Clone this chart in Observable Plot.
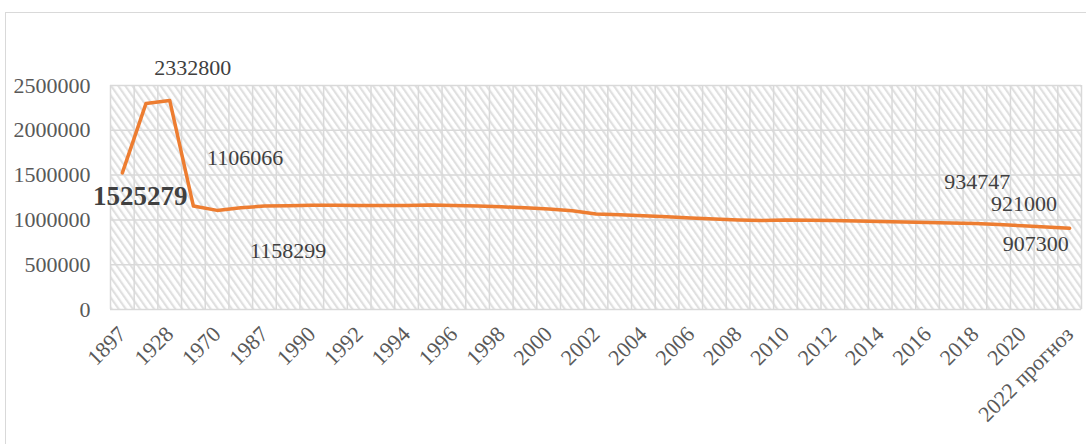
<!DOCTYPE html>
<html><head><meta charset="utf-8">
<script src="https://cdn.jsdelivr.net/npm/d3@7"></script>
<script src="https://cdn.jsdelivr.net/npm/@observablehq/plot@0.6"></script>
<style>
body{margin:0;background:#fff;}
#wrap{position:relative;width:1086px;height:444px;overflow:hidden;background:#fff;}
#border{position:absolute;left:5px;top:12px;width:1300px;height:700px;border:1.5px solid #d9d9d9;box-sizing:border-box;}
#chart{position:absolute;left:0;top:0;}
</style></head><body>
<div id="wrap"><div id="border"></div><div id="chart"></div></div>
<script>
const years = ["1897","1917","1928","1959","1970","1979","1987","1989",
  "1990","1991","1992","1993","1994","1995","1996","1997","1998","1999",
  "2000","2001","2002","2003","2004","2005","2006","2007","2008","2009",
  "2010","2011","2012","2013","2014","2015","2016","2017","2018","2019",
  "2020","2021","2022 прогноз"];
const population = [1525279,2300000,2332800,1155000,1106066,1135000,1155000,1158299,
  1163000,1164000,1162000,1160000,1160000,1165000,1162000,1155000,1146000,1135000,
  1121000,1102000,1066000,1058000,1047000,1035000,1022000,1010000,1000000,993000,
  1000000,997000,993000,988000,983000,977000,972000,966000,959000,949000,
  934747,921000,907300];
const tickLabels = ["1897","1928","1970","1987","1990","1992","1994","1996","1998",
  "2000","2002","2004","2006","2008","2010","2012","2014","2016","2018","2020","2022 прогноз"];
const yTicks = [0,500000,1000000,1500000,2000000,2500000];
const labelYears = ["1897","1928","1970","1989","2020","2021","2022 прогноз"];
const labelValues = [1525279,2332800,1106066,1158299,934747,921000,907300];

const W = 1086, H = 444, ML = 110, MR = 5, MT = 85, MB = 135;
const step = (W - ML - MR) / years.length;
const data = years.map((y, i) => ({year: y, value: population[i]}));
const labels = labelYears.map((y, i) => ({year: y, value: labelValues[i]}));
// label offsets (style)
const off = {
  "1897": [18, 24], "1928": [23, -33], "1970": [28, -52], "1989": [0, 45],
  "2020": [-45, -44], "2021": [-22, -23], "2022 прогноз": [-34, 16]
};
const font = "'Liberation Serif','Times New Roman',serif";

const plot = Plot.plot({
  width: W, height: H,
  marginLeft: ML, marginRight: MR, marginTop: MT, marginBottom: MB,
  style: {fontFamily: font, background: "transparent"},
  x: {type: "point", domain: years, axis: null, round: false, padding: 0.5},
  y: {domain: [0, 2500000], axis: null},
  marks: [
    Plot.frame({fill: "url(#hatch)", stroke: null}),
    Plot.ruleY(yTicks, {stroke: "#d9d9d9", strokeWidth: 1.5}),
    Plot.ruleX(years, {x: d => d, dx: -step / 2, stroke: "#d9d9d9", strokeWidth: 1.5}),
    Plot.ruleX([years[years.length - 1]], {x: d => d, dx: step / 2, stroke: "#d9d9d9", strokeWidth: 1.5}),
    Plot.text(yTicks, {y: d => d, text: d => String(d), frameAnchor: "left", textAnchor: "end",
      lineAnchor: "middle", dx: -20, fontSize: 22, fill: "#595959"}),
    Plot.text(tickLabels, {x: d => d, frameAnchor: "bottom", rotate: -45, textAnchor: "end",
      lineAnchor: "middle", dx: 0, dy: 21, fontSize: 22, fill: "#595959"}),
    Plot.line(data, {x: "year", y: "value", stroke: "#ED7D31", strokeWidth: 3.5,
      strokeLinejoin: "round", strokeLinecap: "round"}),
    ...labels.map(d => Plot.text([d], {x: "year", y: "value", text: v => String(v.value),
      dx: off[d.year][0], dy: off[d.year][1], fontSize: d.year === "1897" ? 27 : 22,
      fontWeight: d.year === "1897" ? "bold" : "normal", fill: "#404040", textAnchor: "middle",
      lineAnchor: "middle"}))
  ]
});
const ns = "http://www.w3.org/2000/svg";
const defs = document.createElementNS(ns, "defs");
defs.innerHTML = `<pattern id="hatch" patternUnits="userSpaceOnUse" width="5.8" height="5.8" patternTransform="rotate(-35)">
  <rect width="5.8" height="5.8" fill="#ffffff"/>
  <rect x="0" y="0" width="2.2" height="5.8" fill="#e0e0e0"/>
</pattern>`;
plot.insertBefore(defs, plot.firstChild);
document.getElementById("chart").appendChild(plot);
</script>
</body></html>
